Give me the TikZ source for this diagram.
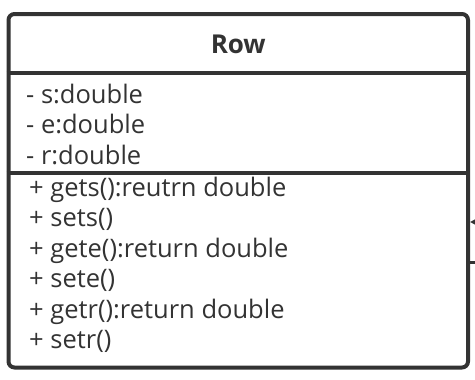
\documentclass[tikz,border=0pt]{standalone}
\usepackage{fontspec}
\setmainfont{Open Sans}
\usetikzlibrary{arrows.meta,positioning}
\definecolor{umlgray}{RGB}{51,51,51}

\begin{document}
\begin{tikzpicture}[
    x=1pt,y=1pt,
    node distance=30.5pt,
    classbox/.style={draw=umlgray,line width=4pt,rounded corners=6pt,inner sep=0pt},
    divider/.style={draw=umlgray,line width=4pt},
    member/.style={inner sep=0pt,anchor=base west,text=umlgray,font=\fontsize{25.5}{30}\selectfont},
    title/.style={inner sep=0pt,anchor=base,text=umlgray,font=\fontsize{26}{30}\selectfont\bfseries},
    arrow/.style={-{Triangle[length=10pt,width=10pt]},draw=umlgray,line width=3pt},
    link/.style={draw=umlgray,line width=3pt}
  ]
    \clip (0,0) rectangle (475,-380);
    \node[classbox,minimum width=459.5pt,minimum height=353.5pt] (row) at (238.25,-190.75) {};
    \node[title] (name) at (238.25,-53) {Row};
    % attributes
    \node[member] (s) at (26,-103) {- s:double};
    \node[member,below=of s.base west,anchor=base west] (e) {- e:double};
    \node[member,below=of e.base west,anchor=base west] (r) {- r:double};
    % operations
    \node[member] (gets) at (29,-196) {+ gets():reutrn double};
    \node[member,below=of gets.base west,anchor=base west] (sets) {+ sets()};
    \node[member,below=of sets.base west,anchor=base west] (gete) {+ gete():return double};
    \node[member,below=of gete.base west,anchor=base west] (sete) {+ sete()};
    \node[member,below=of sete.base west,anchor=base west] (getr) {+ getr():return double};
    \node[member,below=of getr.base west,anchor=base west] (setr) {+ setr()};
    \coordinate (headsep) at (0,-72.5);
    \coordinate (attrsep) at (0,-172.5);
    \draw[divider] (row.west |- headsep) -- (row.east |- headsep);
    \draw[divider] (row.west |- attrsep) -- (row.east |- attrsep);
    % associations leaving to the right
    \coordinate (srcA) at (495,-222);
    \coordinate (srcB) at (495,-262);
    \draw[arrow] (srcA) -- (srcA -| row.east);
    \draw[link] (srcB) -- (srcB -| row.east);
  \end{tikzpicture}
\end{document}
